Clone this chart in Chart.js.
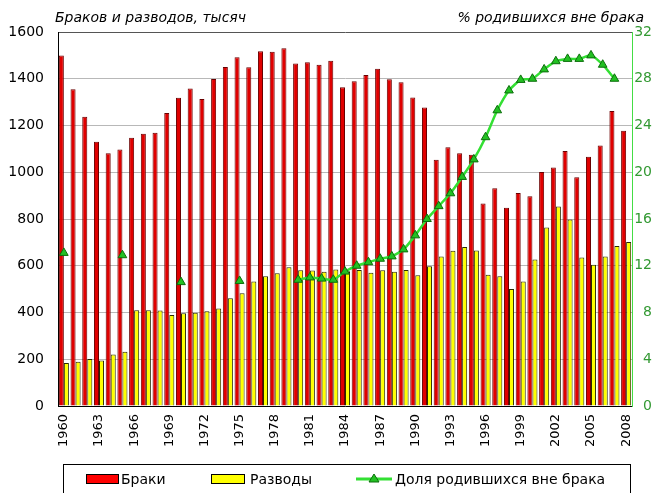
<!DOCTYPE html>
<html>
<head>
<meta charset="utf-8">
<script src="https://cdn.jsdelivr.net/npm/chart.js@4.4.1/dist/chart.umd.min.js"></script>
<style>
  html, body { margin: 0; padding: 0; background: #fff; }
  #wrap { width: 664px; height: 493px; }
</style>
</head>
<body>
<div id="wrap"><canvas id="chart" width="664" height="493"></canvas></div>
<script>
// ---- data ----
const years = [
  1960, 1961, 1962, 1963, 1964, 1965, 1966, 1967, 1968, 1969,
  1970, 1971, 1972, 1973, 1974, 1975, 1976, 1977, 1978, 1979,
  1980, 1981, 1982, 1983, 1984, 1985, 1986, 1987, 1988, 1989,
  1990, 1991, 1992, 1993, 1994, 1995, 1996, 1997, 1998, 1999,
  2000, 2001, 2002, 2003, 2004, 2005, 2006, 2007, 2008
];
// marriages, thousand
const marriages = [
  1499, 1355, 1237, 1130, 1081, 1097, 1148, 1165, 1169, 1253,
  1319, 1358, 1313, 1399, 1450, 1492, 1449, 1518, 1516, 1530,
  1465, 1471, 1460, 1477, 1364, 1389, 1416, 1443, 1398, 1385,
  1320, 1277, 1054, 1107, 1081, 1075, 866, 932, 848, 911,
  897, 1001, 1020, 1091, 979, 1066, 1114, 1262, 1178
];
// divorces, thousand
const divorces = [
  184, 189, 201, 195, 220, 232, 410, 410, 409, 389,
  397, 399, 405, 417, 461, 482, 533, 555, 568, 594,
  581, 580, 574, 584, 576, 582, 570, 581, 574, 582,
  559, 598, 640, 664, 680, 665, 562, 555, 501, 533,
  627, 764, 853, 798, 635, 604, 640, 685, 702
];
// share of births outside marriage, %
const outOfWedlock = [
  13.1, null, null, null, null, 12.9, null, null, null, null,
  10.6, null, null, null, null, 10.7, null, null, null, null,
  10.8, 11.0, 10.9, 10.8, 11.5, 12.0, 12.3, 12.6, 12.8, 13.4,
  14.6, 16.0, 17.1, 18.2, 19.6, 21.1, 23.0, 25.3, 27.0, 27.9,
  28.0, 28.8, 29.5, 29.7, 29.7, 30.0, 29.2, 28.0, null
];
const tickYears = [1960, 1963, 1966, 1969, 1972, 1975, 1978, 1981, 1984,
  1987, 1990, 1993, 1996, 1999, 2002, 2005, 2008];

const leftTitle = 'Браков и разводов, тысяч';
const rightTitle = '% родившихся вне брака';
const seriesNames = ['Браки', 'Разводы', 'Доля родившихся вне брака'];

const FONT = '"DejaVu Sans", sans-serif';

// titles above the plot and the boxed legend at the bottom
const decor = {
  id: 'decor',
  afterDraw(chart) {
    const ctx = chart.ctx;
    ctx.save();
    ctx.fillStyle = '#000';
    ctx.font = 'italic 14px ' + FONT;
    ctx.textBaseline = 'alphabetic';
    ctx.textAlign = 'left';
    ctx.fillText(leftTitle, 55, 22);
    ctx.textAlign = 'right';
    ctx.fillText(rightTitle, 644, 22);

    // legend frame
    ctx.strokeStyle = '#000';
    ctx.lineWidth = 1;
    ctx.strokeRect(63.5, 464.5, 567, 40);

    ctx.font = '14px ' + FONT;
    ctx.textAlign = 'left';
    const ds = chart.data.datasets;
    // bar swatches
    ctx.fillStyle = '#ff0000';
    ctx.fillRect(86.5, 474.5, 32, 9);
    ctx.strokeRect(86.5, 474.5, 32, 9);
    ctx.fillStyle = '#000';
    ctx.fillText(ds[1].label, 121, 484);

    ctx.fillStyle = '#ffff00';
    ctx.fillRect(211.5, 474.5, 33, 9);
    ctx.strokeRect(211.5, 474.5, 33, 9);
    ctx.fillStyle = '#000';
    ctx.fillText(ds[2].label, 250, 484);

    // line swatch
    ctx.strokeStyle = ds[0].borderColor;
    ctx.lineWidth = 3;
    ctx.beginPath();
    ctx.moveTo(356, 479);
    ctx.lineTo(392, 479);
    ctx.stroke();
    ctx.beginPath();
    ctx.moveTo(374, 474);
    ctx.lineTo(379, 482);
    ctx.lineTo(369, 482);
    ctx.closePath();
    ctx.fillStyle = ds[0].pointBackgroundColor;
    ctx.fill();
    ctx.lineWidth = 1;
    ctx.strokeStyle = ds[0].pointBorderColor;
    ctx.stroke();
    ctx.fillStyle = '#000';
    ctx.fillText(ds[0].label, 395, 484);
    ctx.restore();
  }
};

new Chart(document.getElementById('chart'), {
  data: {
    labels: years,
    datasets: [
      {
        type: 'line',
        label: seriesNames[2],
        data: outOfWedlock,
        yAxisID: 'y1',
        order: 0,
        borderColor: '#33e033',
        borderWidth: 2.5,
        tension: 0.2,
        spanGaps: false,
        pointStyle: 'triangle',
        pointRadius: 5,
        pointBackgroundColor: '#22c022',
        pointBorderColor: '#0b6e0b',
        pointBorderWidth: 1
      },
      {
        type: 'bar',
        label: seriesNames[0],
        data: marriages,
        yAxisID: 'y',
        order: 1,
        backgroundColor: '#e00000',
        borderColor: '#6a0000',
        borderWidth: 1,
        categoryPercentage: 0.86,
        barPercentage: 1.0
      },
      {
        type: 'bar',
        label: seriesNames[1],
        data: divorces,
        yAxisID: 'y',
        order: 2,
        backgroundColor: '#ffff00',
        borderColor: '#2a2a00',
        borderWidth: 1,
        categoryPercentage: 0.86,
        barPercentage: 1.0
      }
    ]
  },
  options: {
    responsive: false,
    animation: false,
    devicePixelRatio: 1,
    layout: { padding: { top: 32, left: 0, right: 12, bottom: 37 } },
    plugins: {
      legend: { display: false },
      tooltip: { enabled: false }
    },
    scales: {
      x: {
        type: 'category',
        offset: true,
        grid: { display: false, drawTicks: false },
        border: { color: '#000', width: 1 },
        ticks: {
          autoSkip: false,
          minRotation: 90,
          maxRotation: 90,
          padding: 8,
          color: '#000',
          font: { family: FONT, size: 13 },
          callback: function (value, index) {
            const y = years[index];
            return tickYears.includes(y) ? String(y) : '';
          }
        },
        afterFit: function (scale) { scale.height = 50; }
      },
      y: {
        position: 'left',
        min: 0,
        max: 1600,
        grid: {
          color: (c) => c.tick && c.tick.value === 1600 ? '#555' : '#b8b8b8',
          drawTicks: false
        },
        border: { color: '#000', width: 1 },
        ticks: {
          stepSize: 200,
          padding: 14,
          color: '#000',
          font: { family: FONT, size: 14 },
          callback: (v) => String(v)
        },
        afterFit: function (scale) { scale.width = 58; }
      },
      y1: {
        position: 'right',
        min: 0,
        max: 32,
        grid: { drawOnChartArea: false, drawTicks: false },
        border: { color: '#44dd44', width: 1 },
        ticks: {
          stepSize: 4,
          crossAlign: 'far',
          color: '#339933',
          font: { family: FONT, size: 14 },
          callback: (v) => String(v)
        },
        afterFit: function (scale) { scale.width = 20; }
      }
    }
  },
  plugins: [decor]
});
</script>
</body>
</html>
